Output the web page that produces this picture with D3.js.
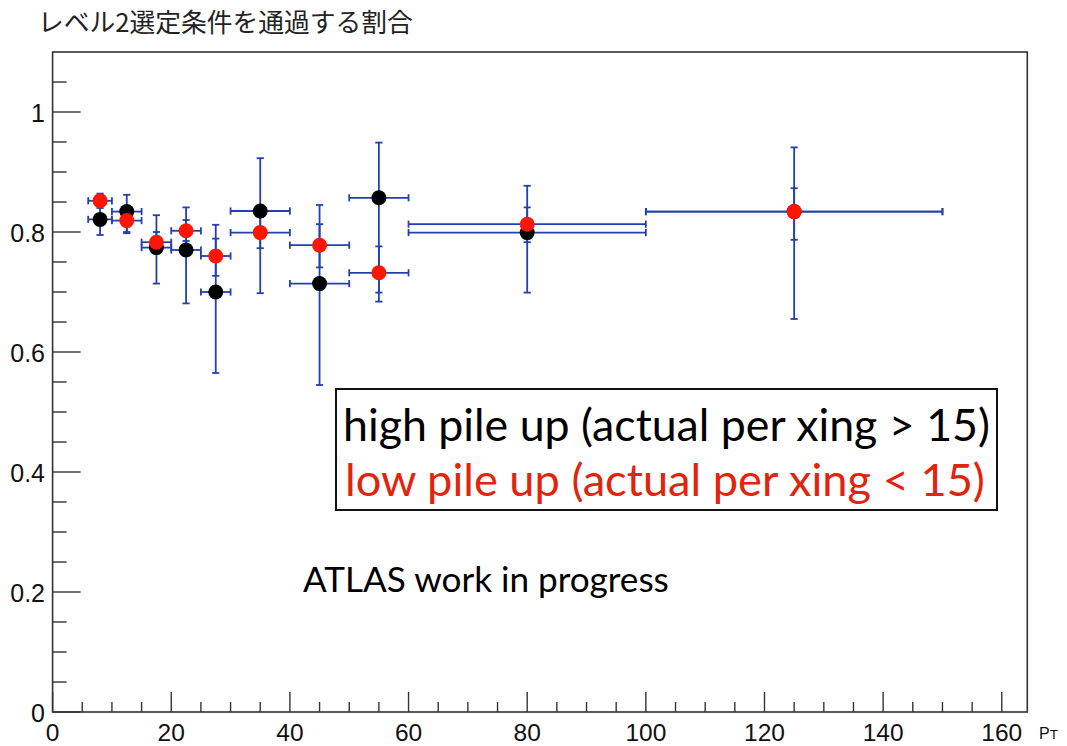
<!DOCTYPE html>
<html>
<head>
<meta charset="utf-8">
<script src="https://cdn.jsdelivr.net/npm/d3@7"></script>
<style>
  html, body { margin: 0; padding: 0; background: #ffffff; }
  svg { display: block; }
</style>
</head>
<body>
<svg id="chart" width="1067" height="746"></svg>
<script>
// pT bins (low edge, high edge, centre)
const binLow    = [6, 10, 15, 20, 25, 30, 40, 50, 60, 100];
const binHigh   = [10, 15, 20, 25, 30, 40, 50, 60, 100, 150];
const binCenter = [8, 12.5, 17.5, 22.5, 27.5, 35, 45, 55, 80, 125];

// high pile-up efficiency with asymmetric error bounds
const highEff = [0.821, 0.834, 0.774, 0.770, 0.700, 0.835, 0.714, 0.857, 0.799, 0.834];
const highLo  = [0.795, 0.800, 0.714, 0.681, 0.565, 0.698, 0.545, 0.684, 0.699, 0.655];
const highHi  = [0.845, 0.862, 0.828, 0.841, 0.812, 0.923, 0.845, 0.949, 0.877, 0.941];

// low pile-up efficiency with asymmetric error bounds
const lowEff = [0.852, 0.819, 0.783, 0.802, 0.760, 0.799, 0.778, 0.732, 0.813, 0.834];
const lowLo  = [0.840, 0.798, 0.765, 0.785, 0.727, 0.773, 0.741, 0.699, 0.783, 0.787];
const lowHi  = [0.864, 0.840, 0.800, 0.820, 0.789, 0.825, 0.813, 0.776, 0.841, 0.873];

// axis ticks
const xMajorTicks = [0, 20, 40, 60, 80, 100, 120, 140, 160];
const yMajorTicks = [0, 0.2, 0.4, 0.6, 0.8, 1];
const yTickLabels = ["0", "0.2", "0.4", "0.6", "0.8", "1"];

const titleText  = "レベル2選定条件を通過する割合";
const legendHigh = "high pile up (actual per xing > 15)";
const legendLow  = "low pile up (actual per xing < 15)";
const noteText   = "ATLAS work in progress";

const svg = d3.select("#chart");
const frame = { left: 52.6, right: 1027.3, top: 52, bottom: 712 };

const x = d3.scaleLinear().domain([0, 164.3]).range([frame.left, frame.right]);
const y = d3.scaleLinear().domain([0, 1.1]).range([frame.bottom, frame.top]);

const axisColor = "#333333";
const errColor = "#2340ad";

function fitText(sel, targetWidth) {
  const base = 40;
  sel.attr("font-size", base);
  const w = sel.node().getComputedTextLength();
  sel.attr("font-size", base * targetWidth / w);
}

// frame
svg.append("rect")
  .attr("x", frame.left).attr("y", frame.top)
  .attr("width", frame.right - frame.left).attr("height", frame.bottom - frame.top)
  .attr("fill", "none").attr("stroke", axisColor).attr("stroke-width", 1.6);

// x ticks (major every 20, minor every 5), pointing up into the frame
const xAll = d3.range(0, 165, 5);
svg.append("g").selectAll("line").data(xAll).join("line")
  .attr("x1", d => x(d)).attr("x2", d => x(d))
  .attr("y1", frame.bottom)
  .attr("y2", d => frame.bottom - (d % 20 === 0 ? 20 : 10))
  .attr("stroke", axisColor).attr("stroke-width", 1.4);

// y ticks (major every 0.2, minor every 0.05), pointing right
const yAll = d3.range(0, 22).map(i => i * 0.05);
svg.append("g").selectAll("line").data(yAll).join("line")
  .attr("y1", d => y(d)).attr("y2", d => y(d))
  .attr("x1", frame.left)
  .attr("x2", (d, i) => frame.left + (i % 4 === 0 ? 28 : 14))
  .attr("stroke", axisColor).attr("stroke-width", 1.4);

// tick labels
const labelFont = "'Liberation Sans', Arial, Helvetica, sans-serif";
svg.append("g").selectAll("text").data(xMajorTicks).join("text")
  .attr("x", d => x(d)).attr("y", 741)
  .attr("text-anchor", "middle")
  .attr("font-family", labelFont).attr("font-size", 24.5).attr("fill", "#111")
  .text(d => d);

svg.append("g").selectAll("text").data(yMajorTicks).join("text")
  .attr("x", 45).attr("y", d => y(d) + 1)
  .attr("dy", "0.36em")
  .attr("text-anchor", "end")
  .attr("font-family", labelFont).attr("font-size", 25).attr("fill", "#111")
  .text((d, i) => yTickLabels[i]);

// x axis title
const pt = svg.append("text")
  .attr("x", 1039).attr("y", 739)
  .attr("font-family", labelFont).attr("fill", "#111");
pt.append("tspan").attr("font-size", 16).text("P");
pt.append("tspan").attr("font-size", 13.5).text("T");

// chart title
const title = svg.append("text")
  .attr("x", 38).attr("y", 32)
  .attr("font-family", "'Noto Sans CJK JP', sans-serif")
  .attr("fill", "#222")
  .text(titleText);
fitText(title, 375);

// error bars
const capHalf = 3.6;
function drawErrors(eff, lo, hi) {
  const g = svg.append("g").attr("stroke", errColor).attr("stroke-width", 1.8).attr("fill", "none");
  binCenter.forEach((c, i) => {
    const cx = x(c), cy = y(eff[i]);
    const xl = x(binLow[i]), xr = x(binHigh[i]);
    const yl = y(lo[i]), yh = y(hi[i]);
    g.append("line").attr("x1", xl).attr("x2", xr).attr("y1", cy).attr("y2", cy);
    g.append("line").attr("x1", xl).attr("x2", xl).attr("y1", cy - capHalf).attr("y2", cy + capHalf);
    g.append("line").attr("x1", xr).attr("x2", xr).attr("y1", cy - capHalf).attr("y2", cy + capHalf);
    g.append("line").attr("x1", cx).attr("x2", cx).attr("y1", yl).attr("y2", yh);
    g.append("line").attr("x1", cx - capHalf).attr("x2", cx + capHalf).attr("y1", yl).attr("y2", yl);
    g.append("line").attr("x1", cx - capHalf).attr("x2", cx + capHalf).attr("y1", yh).attr("y2", yh);
  });
}
drawErrors(highEff, highLo, highHi);
drawErrors(lowEff, lowLo, lowHi);

function drawMarkers(eff, color) {
  svg.append("g").selectAll("circle").data(eff).join("circle")
    .attr("cx", (d, i) => x(binCenter[i]))
    .attr("cy", d => y(d))
    .attr("r", 7.5)
    .attr("fill", color);
}
drawMarkers(highEff, "#000000");
drawMarkers(lowEff, "#ff1500");

// legend box
const legendFont = "Lato, 'Open Sans', sans-serif";
svg.append("rect")
  .attr("x", 336).attr("y", 389).attr("width", 661).attr("height", 121)
  .attr("fill", "#ffffff").attr("stroke", "#111").attr("stroke-width", 2);

const t1 = svg.append("text")
  .attr("x", 343).attr("y", 441)
  .attr("font-family", legendFont).attr("fill", "#000")
  .text(legendHigh);
fitText(t1, 647);

const t2 = svg.append("text")
  .attr("x", 345).attr("y", 496)
  .attr("font-family", legendFont).attr("fill", "#e3240c")
  .text(legendLow);
fitText(t2, 640);

const t3 = svg.append("text")
  .attr("x", 303).attr("y", 592)
  .attr("font-family", legendFont).attr("fill", "#000")
  .text(noteText);
fitText(t3, 366);
</script>
</body>
</html>
